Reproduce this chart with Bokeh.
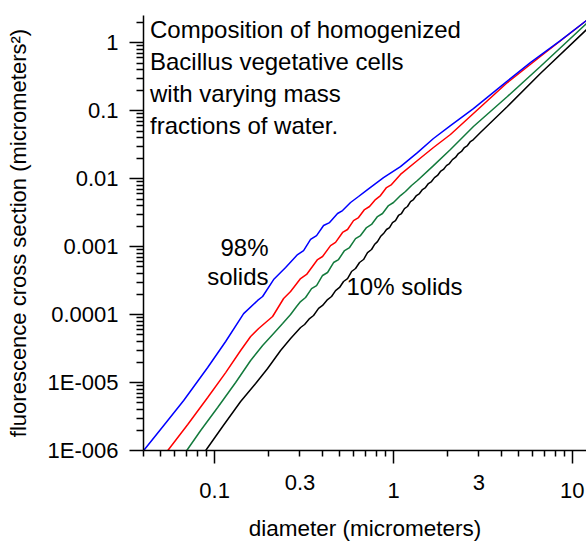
from bokeh.plotting import figure
from bokeh.models import Range1d, FixedTicker, CustomJSTickFormatter, Label, LogAxis
from bokeh.embed import file_html
from bokeh.resources import INLINE

FONT = "Liberation Sans"

# Fluorescence cross section (micrometers^2) against particle diameter (micrometers)
# 98% solids
diam_98 = [0.0401, 0.0519, 0.0671, 0.0914, 0.1152, 0.1452, 0.1739, 0.1854, 0.2136, 0.2337,
           0.2493, 0.2909, 0.3142, 0.3438, 0.3714, 0.4064, 0.439, 0.4866, 0.519, 0.5752,
           0.6376, 0.7158, 0.8794, 1.094, 1.361, 1.673, 2.082, 2.799, 4.224, 5.826, 8.57, 12.0]
xsec_98 = [1.0e-6, 2.33e-6, 5.44e-6, 1.66e-5, 4.01e-5, 1.03e-4, 1.61e-4, 1.84e-4, 3.27e-4, 4.15e-4,
           4.91e-4, 7.63e-4, 8.73e-4, 1.27e-3, 1.45e-3, 2.04e-3, 2.25e-3, 3.06e-3, 3.38e-3, 4.44e-3,
           5.44e-3, 6.89e-3, 1.03e-2, 1.50e-2, 2.41e-2, 3.88e-2, 6.02e-2, 0.107, 0.258, 0.508, 1.07, 2.11]

# intermediate water fraction (red)
diam_red = [0.0547, 0.0707, 0.0914, 0.1152, 0.1397, 0.1589, 0.1762, 0.1927, 0.2109, 0.243,
            0.2658, 0.3023, 0.3266, 0.3762, 0.4012, 0.4446, 0.4742, 0.519, 0.5534, 0.5977,
            0.6376, 0.6887, 0.7345, 0.793, 0.846, 0.914, 0.975, 1.094, 1.361, 1.673,
            2.082, 2.799, 4.334, 6.625, 12.0]
xsec_red = [1.0e-6, 2.41e-6, 6.02e-6, 1.40e-5, 2.96e-5, 4.75e-5, 6.23e-5, 7.63e-5, 9.35e-5, 1.72e-4,
            2.18e-4, 3.38e-4, 3.88e-4, 6.44e-4, 7.13e-4, 1.03e-3, 1.15e-3, 1.61e-3, 1.78e-3, 2.41e-3,
            2.67e-3, 3.50e-3, 3.88e-3, 4.91e-3, 5.62e-3, 7.37e-3, 8.16e-3, 1.15e-2, 1.84e-2, 2.86e-2,
            4.44e-2, 9.04e-2, 0.258, 0.623, 2.11]

# intermediate water fraction (green)
diam_green = [0.0698, 0.0835, 0.1039, 0.131, 0.1589, 0.1854, 0.2136, 0.2399, 0.2658, 0.2871,
              0.3023, 0.3224, 0.3482, 0.3714, 0.4012, 0.4279, 0.4622, 0.4928, 0.5325, 0.5678,
              0.6134, 0.6541, 0.7068, 0.7537, 0.8137, 0.8682, 0.9378, 1.0, 1.094, 1.167,
              1.261, 1.361, 1.673, 2.082, 2.799, 4.334, 6.625, 12.0]
xsec_green = [1.0e-6, 1.97e-6, 4.29e-6, 1.0e-5, 2.11e-5, 3.50e-5, 5.26e-5, 7.37e-5, 1.0e-4, 1.31e-4,
              1.55e-4, 1.78e-4, 2.41e-4, 2.67e-4, 3.75e-4, 4.15e-4, 5.82e-4, 6.44e-4, 8.73e-4, 9.67e-4,
              1.31e-3, 1.45e-3, 1.90e-3, 2.11e-3, 2.76e-3, 3.06e-3, 4.01e-3, 4.44e-3, 5.62e-3, 6.44e-3,
              7.89e-3, 9.35e-3, 1.55e-2, 2.67e-2, 5.82e-2, 0.161, 0.444, 1.90]

# 10% solids
diam_10 = [0.0891, 0.1108, 0.1397, 0.1695, 0.1977, 0.2337, 0.2658, 0.3023, 0.3183, 0.3394,
           0.3573, 0.3811, 0.4012, 0.4279, 0.4504, 0.4742, 0.4993, 0.5256, 0.5534, 0.5826,
           0.6134, 0.6457, 0.6799, 0.7158, 0.7537, 0.783, 0.8137, 0.846, 0.8794, 0.914,
           0.950, 0.987, 1.026, 1.066, 1.108, 1.152, 1.197, 1.245, 1.293, 1.344,
           1.397, 1.452, 1.509, 1.568, 1.631, 1.695, 1.762, 1.830, 1.902, 1.977,
           2.055, 2.136, 2.220, 2.307, 2.399, 2.493, 2.591, 2.693, 2.799, 3.062,
           4.334, 6.625, 12.0]
xsec_10 = [1.0e-6, 2.25e-6, 5.26e-6, 9.67e-6, 1.61e-5, 2.96e-5, 4.44e-5, 6.44e-5, 7.13e-5, 8.73e-5,
           9.67e-5, 1.23e-4, 1.36e-4, 1.66e-4, 1.84e-4, 2.25e-4, 2.50e-4, 3.06e-4, 3.38e-4, 4.29e-4,
           4.75e-4, 5.82e-4, 6.44e-4, 8.16e-4, 9.04e-4, 1.07e-3, 1.18e-3, 1.40e-3, 1.55e-3, 1.78e-3,
           1.90e-3, 2.25e-3, 2.41e-3, 2.86e-3, 3.06e-3, 3.62e-3, 3.88e-3, 4.59e-3, 4.91e-3, 5.62e-3,
           6.02e-3, 6.89e-3, 7.37e-3, 8.44e-3, 9.04e-3, 1.03e-2, 1.11e-2, 1.27e-2, 1.36e-2, 1.55e-2,
           1.66e-2, 1.90e-2, 2.04e-2, 2.33e-2, 2.50e-2, 2.86e-2, 3.06e-2, 3.50e-2, 3.75e-2, 4.75e-2,
           0.115, 0.350, 1.55]

# tick labels
y_tick_values = [1e-6, 1e-5, 1e-4, 1e-3, 1e-2, 1e-1, 1.0]
y_tick_labels = ["1E-006", "1E-005", "0.0001", "0.001", "0.01", "0.1", "1"]
x_tick_values = [0.1, 1.0, 10.0]
x_tick_labels = ["0.1", "1", "10"]
x_extra_values = [0.3, 3.0]
x_extra_labels = ["0.3", "3"]

p = figure(width=586, height=543, x_axis_type="log", y_axis_type="log",
           x_range=Range1d(0.04, 12.0), y_range=Range1d(1e-6, 2.5),
           output_backend="svg", toolbar_location=None,
           min_border_left=143, min_border_right=0, min_border_top=15, min_border_bottom=93)
p.outline_line_color = None
p.xgrid.visible = False
p.ygrid.visible = False
p.background_fill_color = "white"
p.border_fill_color = "white"

fmt_code = """
for (let i = 0; i < vals.length; i++) {
  if (Math.abs(Math.log10(vals[i]) - Math.log10(tick)) < 1e-6) return labs[i];
}
return "";
"""

xminor = [m * 10.0 ** e for e in (-2, -1, 0, 1) for m in range(2, 10)]
yminor = [m * 10.0 ** e for e in range(-6, 1) for m in range(2, 10)]


def style_axis(ax, label_size="22px", title_size="22.5px"):
    ax.major_tick_in = 0
    ax.minor_tick_in = 0
    ax.axis_line_width = 1.5
    ax.major_tick_line_width = 1.5
    ax.minor_tick_line_width = 1.5
    ax.axis_line_color = "black"
    ax.major_tick_line_color = "black"
    ax.minor_tick_line_color = "black"
    ax.major_label_text_font = FONT
    ax.major_label_text_font_size = label_size
    ax.major_label_text_color = "black"
    ax.axis_label_text_font = FONT
    ax.axis_label_text_font_size = title_size
    ax.axis_label_text_font_style = "normal"
    ax.axis_label_text_color = "black"


# decade ticks and labels on the bottom axis
xa = p.xaxis[0]
style_axis(xa)
xa.ticker = FixedTicker(ticks=x_tick_values, minor_ticks=xminor)
xa.formatter = CustomJSTickFormatter(args=dict(vals=x_tick_values, labs=x_tick_labels), code=fmt_code)
xa.major_tick_out = 13
xa.minor_tick_out = 6
xa.major_label_standoff = 19

# labels at 0.3 and 3, raised a little above the decade labels
xb = LogAxis(ticker=FixedTicker(ticks=x_extra_values, minor_ticks=[]),
             formatter=CustomJSTickFormatter(args=dict(vals=x_extra_values, labs=x_extra_labels), code=fmt_code))
style_axis(xb)
xb.axis_line_color = None
xb.major_tick_line_color = None
xb.minor_tick_line_color = None
xb.major_tick_out = 0
xb.minor_tick_out = 0
xb.major_label_standoff = -26
xb.axis_label = "diameter (micrometers)"
xb.axis_label_standoff = 23
p.add_layout(xb, "below")

ya = p.yaxis[0]
style_axis(ya, title_size="22px")
ya.ticker = FixedTicker(ticks=y_tick_values, minor_ticks=yminor)
ya.formatter = CustomJSTickFormatter(args=dict(vals=y_tick_values, labs=y_tick_labels), code=fmt_code)
ya.major_tick_out = 14
ya.minor_tick_out = 7
ya.major_label_standoff = 11
ya.axis_label = "fluorescence cross section (micrometers\u00b2)"
ya.axis_label_standoff = 14

p.line(diam_10, xsec_10, line_color="black", line_width=1.5)
p.line(diam_green, xsec_green, line_color="#137a3c", line_width=1.5)
p.line(diam_red, xsec_red, line_color="#ff0000", line_width=1.5)
p.line(diam_98, xsec_98, line_color="#0000ff", line_width=1.5)

p.add_layout(Label(x=0.0435, y=2.45, text="Composition of homogenized\nBacillus vegetative cells\nwith varying mass\nfractions of water.",
                   text_align="left", text_baseline="top", text_line_height=1.18,
                   text_font=FONT, text_font_size="24px", text_color="black"))
p.add_layout(Label(x=0.2, y=1.55e-3, text="98%\nsolids", text_align="right", text_baseline="top",
                   text_line_height=1.08, text_font=FONT, text_font_size="24px", text_color="black"))
p.add_layout(Label(x=0.546, y=2.58e-4, text="10% solids", text_align="left", text_baseline="alphabetic",
                   text_font=FONT, text_font_size="24px", text_color="black"))

open("out.html", "w").write(file_html(p, INLINE))
